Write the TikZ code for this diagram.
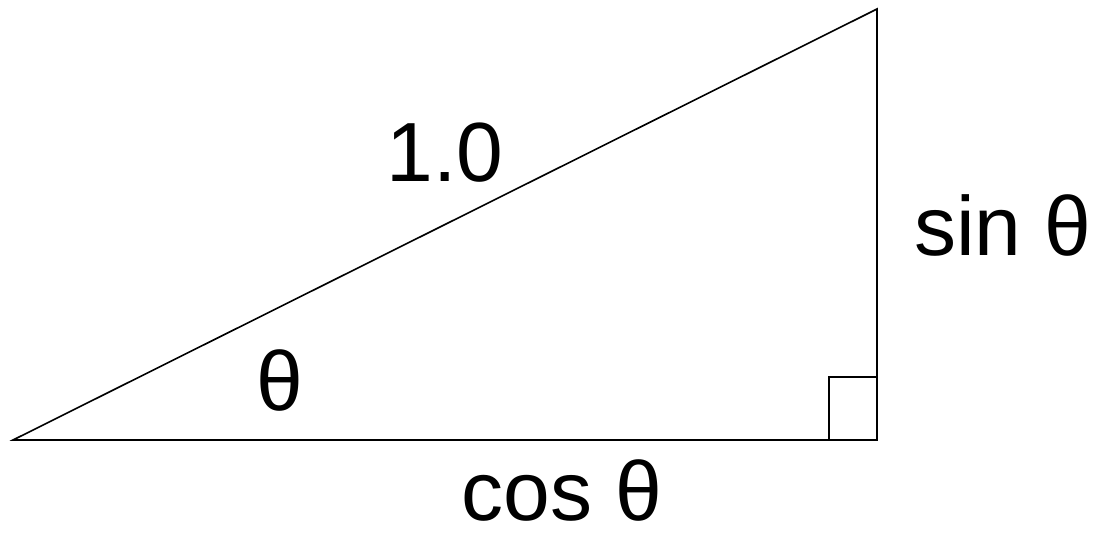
\documentclass[tikz,border=0pt]{standalone}
\usepackage{fontspec}
\setmainfont{Liberation Sans}
\begin{document}
\begin{tikzpicture}[x=1pt,y=-1pt,
  edge/.style={draw=black,line width=1.6pt,line join=miter},
  lbl/.style={font=\fontsize{84}{92}\selectfont,inner sep=0pt,anchor=base}]
\useasboundingbox (0,0) rectangle (1098,542);
\coordinate (A) at (13,440);
\coordinate (B) at (877,440);
\coordinate (C) at (877,9);
\coordinate (R1) at (829,440);
\coordinate (R2) at (829,377);
\coordinate (R3) at (877,377);
\draw[edge] (A) -- (B) -- (C) -- cycle;
\draw[edge,line width=1.4pt] (R1) -- (R2) -- (R3);
\node[lbl] (hyp) at (445,181) {1.0};
\node[lbl] (sin) at (1003,255) {sin θ};
\node[lbl] (cos) at (562,520) {cos θ};
\node[lbl] (ang) at (280,410) {θ};
\end{tikzpicture}
\end{document}
